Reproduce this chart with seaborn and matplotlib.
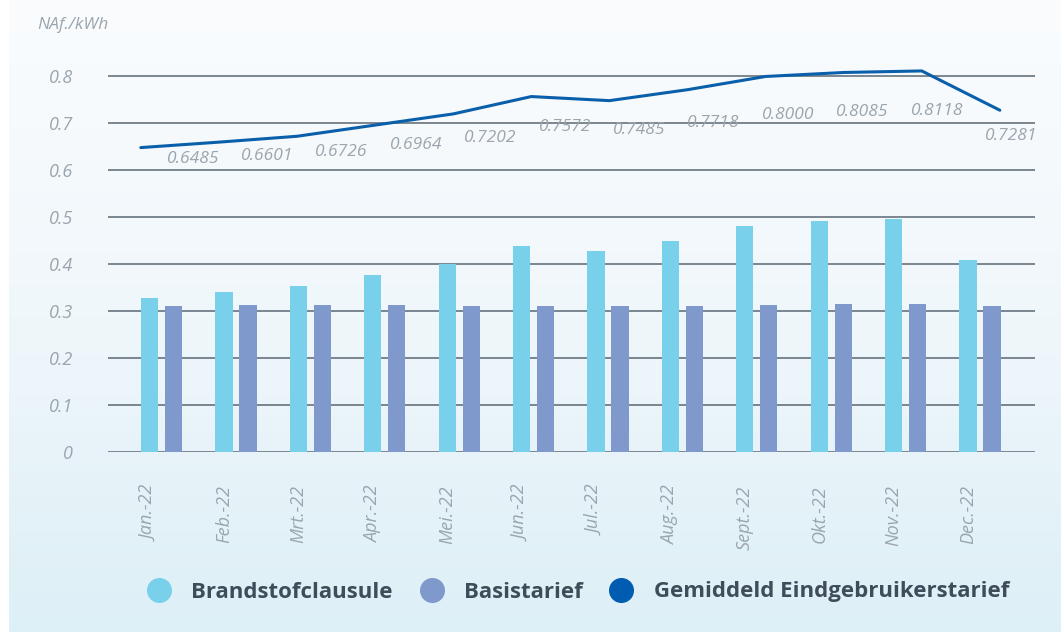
import matplotlib
matplotlib.use("Agg")
import matplotlib.pyplot as plt
from matplotlib.lines import Line2D
import numpy as np
import pandas as pd
import seaborn as sns

months = ["Jan.-22", "Feb.-22", "Mrt.-22", "Apr.-22", "Mei.-22", "Jun.-22",
          "Jul.-22", "Aug.-22", "Sept.-22", "Okt.-22", "Nov.-22", "Dec.-22"]
brandstof = [0.328, 0.341, 0.354, 0.377, 0.401, 0.439, 0.428, 0.450, 0.482, 0.492, 0.497, 0.409]
basis = [0.311, 0.313, 0.313, 0.313, 0.311, 0.311, 0.311, 0.311, 0.313, 0.316, 0.316, 0.311]
gemiddeld = [0.6485, 0.6601, 0.6726, 0.6964, 0.7202, 0.7572, 0.7485, 0.7718, 0.8000, 0.8085, 0.8118, 0.7281]
yticks = [0, 0.1, 0.2, 0.3, 0.4, 0.5, 0.6, 0.7, 0.8]

c_brand = "#79d0ea"
c_basis = "#7f99cc"
c_line = "#0a5fab"
grey = "#9aa5ae"
dark = "#3f4d5a"

sns.set_theme(style="white")
plt.rcParams["font.family"] = ["Open Sans", "DejaVu Sans"]

fig = plt.figure(figsize=(10.61, 6.32), dpi=100)
fig.patch.set_facecolor("white")

# background gradient panel
bg = fig.add_axes([9 / 1061, 0, 1 - 9 / 1061, 1])
grad = np.linspace(0, 1, 256).reshape(-1, 1)
cmap = matplotlib.colors.LinearSegmentedColormap.from_list("bg", ["#fafcfe", "#f0f7fb", "#ddeff7"])
bg.imshow(grad, aspect="auto", cmap=cmap, extent=[0, 1, 0, 1], origin="upper")
bg.axis("off")

ax = fig.add_axes([108 / 1061, 1 - 452 / 632, (1035 - 108) / 1061, (452 - 53) / 632])
ax.patch.set_alpha(0)

df = pd.DataFrame({
    "maand": months * 2,
    "waarde": brandstof + basis,
    "serie": ["Brandstofclausule"] * 12 + ["Basistarief"] * 12,
})
sns.barplot(data=df, x="maand", y="waarde", hue="serie",
            palette=[c_brand, c_basis], width=0.645, gap=0.28,
            saturation=1, linewidth=0, legend=False, ax=ax, zorder=3)

ax.set_ylim(0, 0.85)
ax.set_xlim(-0.72, 11.74)
ax.set_yticks(yticks)
ax.set_yticklabels(["0"] + [f"{v:.1f}" for v in yticks[1:]])
for v in yticks:
    ax.axhline(v, color="#66737d", lw=1.2, zorder=1)
ax.set_xticks(np.arange(len(months)) - 0.16)
ax.set_xticklabels(months, rotation=90, ha="center", va="top")
ax.tick_params(axis="y", length=0, pad=25, labelsize=13, labelcolor=grey)
ax.tick_params(axis="x", length=0, pad=24, labelsize=13, labelcolor=grey)
for t in ax.get_xticklabels() + ax.get_yticklabels():
    t.set_fontstyle("italic")
ax.set_xlabel("")
ax.set_ylabel("")
sns.despine(ax=ax, left=True, bottom=True)

# line on its own x scale
axl = ax.twiny()
axl.plot(np.arange(len(months)), gemiddeld, color=c_line, lw=2.2, zorder=4)
axl.set_xlim(-0.42, 11.45)
axl.axis("off")

# value labels
axt = ax.twinx()
axt.set_ylim(-0.35, 1.01)
for i, v in enumerate(gemiddeld):
    axt.text(i + 0.42, v, f"{v:.4f}", ha="center", va="center",
             fontsize=12.5, style="italic", color=grey)
axt.axis("off")

fig.text(37 / 1061, 1 - 25 / 632, "NAf./kWh", fontsize=12.5, style="italic",
         color=grey, va="center", ha="left")

handles = [Line2D([], [], marker="o", ls="none", ms=17, color=c)
           for c in [c_brand, c_basis, "#005cb0"]]
leg = fig.legend(handles, ["Brandstofclausule", "Basistarief", "Gemiddeld Eindgebruikerstarief"],
                 loc="center", bbox_to_anchor=(0.54, 1 - 592 / 632), ncol=3,
                 frameon=False, handletextpad=0.45, columnspacing=0.75,
                 prop={"size": 16, "weight": "bold"})
for t in leg.get_texts():
    t.set_color(dark)

fig.savefig("out.png", dpi=100)
